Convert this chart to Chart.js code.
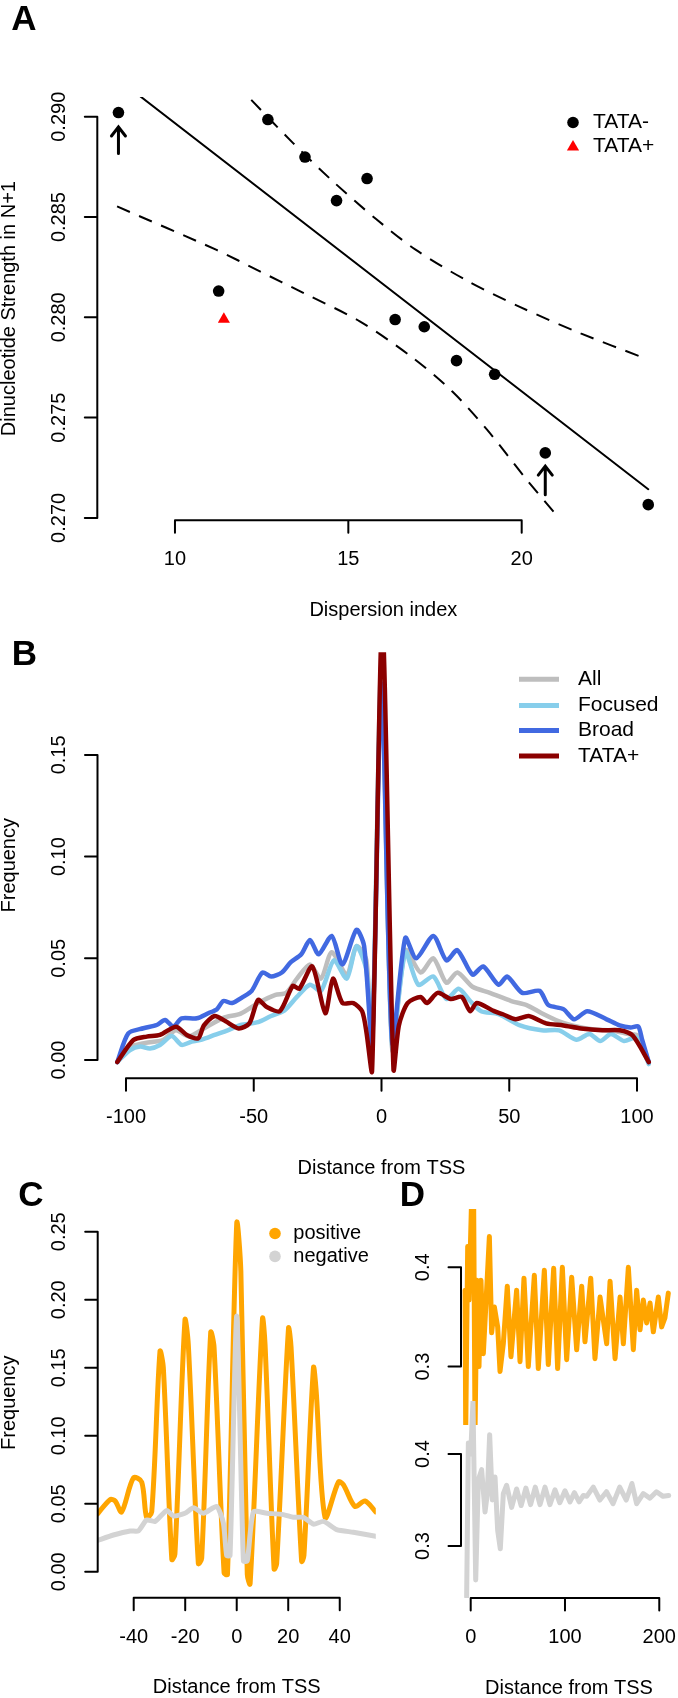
<!DOCTYPE html>
<html>
<head>
<meta charset="utf-8">
<script src="https://cdn.jsdelivr.net/npm/chart.js@4.4.0/dist/chart.umd.min.js"></script>
<style>
html,body{margin:0;padding:0;background:#fff;}
#wrap{position:relative;width:678px;height:1698px;}
#wrap canvas{position:absolute;left:0;top:0;}
</style>
</head>
<body>
<div id="wrap">
<canvas id="chartA" width="678" height="1698"></canvas>
<canvas id="chartB" width="678" height="1698"></canvas>
<canvas id="chartC" width="678" height="1698"></canvas>
<canvas id="chartD" width="678" height="1698"></canvas>
</div>
<script>
// ---- panel A : dinucleotide strength vs dispersion index
const dispTataNeg = [8.37, 12.68, 13.75, 14.66, 15.54, 11.26, 16.35, 17.19, 18.12, 19.22, 20.68, 23.65];
const strengthTataNeg = [0.29021, 0.28986, 0.28799, 0.28582, 0.28692, 0.28131, 0.27989, 0.27953, 0.27784, 0.27716, 0.27324, 0.27066];
const dispTataPos = [11.41];
const strengthTataPos = [0.27990];
const fitX = [8.37, 23.65];
const fitY = [0.29186, 0.27143];
const bandUpX = [12.20, 13.4, 14.58, 15.8, 16.95, 18.4, 19.96, 21.7, 23.46];
const bandUpY = [0.29084, 0.28870, 0.28674, 0.28490, 0.28336, 0.28185, 0.28051, 0.27920, 0.27802];
const bandLoX = [8.33, 11.20, 12.45, 13.70, 15.33, 16.83, 18.0, 19.0, 20.1, 21.0];
const bandLoY = [0.28553, 0.28336, 0.28229, 0.28122, 0.27980, 0.27802, 0.27630, 0.27440, 0.27200, 0.27014];
const arrowX = [8.37, 20.68];
const arrowTail = [0.28817, 0.27116];
const arrowHead = [0.28949, 0.27258];
const ticksAx = [10, 15, 20];
const ticksAy = [0.270, 0.275, 0.280, 0.285, 0.290];
const labelsAy = ['0.270', '0.275', '0.280', '0.285', '0.290'];

// ---- panel B : frequency around TSS
const allX = [-103.4, -99.2, -92.4, -85.6, -80.5, -75.4, -69.5, -61.9, -55.1, -48.3, -41.5, -37.3, -33.1, -28.0, -23.7, -19.5, -13.6, -9.8, -5.9, -3.7, 0, 4.2, 9.3, 15.3, 20.3, 25.4, 29.7, 35.6, 42.4, 50.8, 56.8, 62.7, 69.5, 74.6, 83.1, 89.8, 96.6, 100.5, 104.6];
const allY = [-0.001, 0.006, 0.0084, 0.0098, 0.0146, 0.0116, 0.0155, 0.0207, 0.0228, 0.028, 0.032, 0.033, 0.040, 0.047, 0.040, 0.053, 0.042, 0.056, 0.049, 0.005, 0.19, 0.005, 0.054, 0.043, 0.050, 0.038, 0.043, 0.036, 0.033, 0.029, 0.027, 0.023, 0.019, 0.017, 0.015, 0.0146, 0.0128, 0.012, -0.001];
const focusedX = [-103.4, -98.4, -94.5, -90.6, -86.7, -82.1, -78.2, -74.3, -70.3, -65.3, -60.2, -55.1, -48.3, -43.2, -38.1, -33.1, -28.0, -23.7, -18.6, -13.6, -9.8, -5.9, -3.7, 0, 4.2, 9.3, 14.4, 20.3, 25.4, 30.2, 34.7, 39.0, 45.8, 54.2, 62.7, 69.5, 76.3, 81.4, 85.6, 89.8, 94.9, 100, 104.6];
const focusedY = [-0.001, 0.0049, 0.0066, 0.0057, 0.0074, 0.0118, 0.0074, 0.009, 0.010, 0.0123, 0.0146, 0.0172, 0.0186, 0.0216, 0.0242, 0.031, 0.037, 0.034, 0.049, 0.040, 0.056, 0.044, 0.006, 0.195, 0.006, 0.053, 0.037, 0.041, 0.030, 0.035, 0.029, 0.024, 0.0225, 0.017, 0.0146, 0.0146, 0.010, 0.0128, 0.0093, 0.0128, 0.0093, 0.011, -0.002];
const broadX = [-103.4, -99.1, -93.2, -88, -84.7, -81.5, -78.2, -72.3, -67.8, -64.4, -61.9, -58.5, -54.2, -50.8, -46.6, -43.2, -39.0, -35.6, -31.4, -28.0, -24.6, -19.5, -15.3, -9.8, -6.8, -3.7, 0, 4.2, 9.3, 13.6, 20.3, 25.4, 29.7, 35.6, 39.8, 45.8, 49.2, 55.1, 61.9, 65.3, 71.2, 75.4, 80.5, 88.1, 93.2, 97.5, 100.5, 102, 104.6];
const broadY = [-0.001, 0.0131, 0.0156, 0.0172, 0.0197, 0.0164, 0.0205, 0.0205, 0.023, 0.025, 0.029, 0.028, 0.031, 0.034, 0.043, 0.041, 0.043, 0.048, 0.052, 0.059, 0.052, 0.061, 0.047, 0.064, 0.056, 0.0084, 0.185, 0.0084, 0.060, 0.050, 0.061, 0.049, 0.054, 0.042, 0.046, 0.037, 0.041, 0.033, 0.034, 0.027, 0.025, 0.020, 0.024, 0.020, 0.017, 0.016, 0.0165, 0.010, -0.001];
const tataX = [-103.4, -97.1, -91.9, -86.7, -80.4, -76.2, -71.7, -69.5, -65.3, -61.0, -55.9, -51.7, -48.3, -44.9, -39.8, -34.7, -32.2, -27.1, -22.0, -19.0, -15.3, -11.0, -7.6, -5.9, -3.7, 0.3, 4.7, 6.8, 10.2, 15.3, 17.8, 22.0, 27.1, 31.4, 34.7, 37.3, 44.1, 47.5, 52.5, 57.6, 64.4, 71.2, 78.0, 86.4, 93.2, 98.3, 104.6];
const tataY = [-0.001, 0.0098, 0.0115, 0.0123, 0.0164, 0.0123, 0.0107, 0.017, 0.0216, 0.019, 0.0155, 0.018, 0.0295, 0.026, 0.024, 0.0365, 0.035, 0.046, 0.023, 0.040, 0.028, 0.028, 0.024, 0.0137, -0.0056, 0.215, -0.0047, 0.017, 0.028, 0.031, 0.028, 0.033, 0.030, 0.031, 0.024, 0.028, 0.024, 0.0225, 0.020, 0.0216, 0.018, 0.017, 0.0155, 0.0146, 0.0146, 0.012, -0.001];
const ticksBx = [-100, -50, 0, 50, 100];
const ticksBy = [0, 0.05, 0.10, 0.15];
const labelsBy = ['0.00', '0.05', '0.10', '0.15'];
const legendB = ['All', 'Focused', 'Broad', 'TATA+'];

// ---- panel C
const cPosX = [-54, -49.2, -47.2, -44.7, -40.1, -36.9, -35.0, -33.0, -29.8, -28.5, -25.2, -24.0, -20.1, -18.8, -14.9, -13.6, -10.1, -8.8, -4.9, -3.6, 0, 1.6, 4.1, 5.2, 10.0, 11.0, 14.5, 15.5, 20.1, 21.1, 25.2, 26.1, 29.8, 30.8, 34.3, 39.5, 41.4, 45.9, 49.8, 54];
const cPosY = [0.0426, 0.053, 0.052, 0.044, 0.069, 0.066, 0.040, 0.044, 0.162, 0.150, 0.009, 0.013, 0.185, 0.167, 0.006, 0.010, 0.176, 0.165, -0.001, -0.002, 0.256, 0.221, -0.002, -0.009, 0.186, 0.167, 0.002, 0.006, 0.179, 0.165, 0.0076, 0.012, 0.150, 0.134, 0.040, 0.066, 0.064, 0.048, 0.052, 0.044];
const cNegX = [-54, -47.9, -41.4, -38.2, -35.0, -31.7, -27.2, -24.6, -20.1, -16.8, -12.9, -7.8, -5.2, -3.9, -2.6, 0, 2.6, 4.1, 6.5, 11.7, 18.1, 22.0, 25.9, 29.8, 33.7, 38.8, 45.3, 54];
const cNegY = [0.023, 0.027, 0.030, 0.030, 0.038, 0.037, 0.045, 0.041, 0.043, 0.047, 0.043, 0.048, 0.036, 0.012, 0.012, 0.188, 0.008, 0.008, 0.044, 0.043, 0.042, 0.040, 0.040, 0.035, 0.037, 0.031, 0.029, 0.026];
const ticksCx = [-40, -20, 0, 20, 40];
const ticksCy = [0, 0.05, 0.10, 0.15, 0.20, 0.25];
const labelsCy = ['0.00', '0.05', '0.10', '0.15', '0.20', '0.25'];

// ---- panel D
const dPosX = [-6, -5.3, -3.2, -1.8, 1.0, 3.1, 4.6, 6.7, 8.8, 10.9, 13.4, 15.8, 19.8, 22.2, 25.1, 28.6, 31.1, 34.6, 38.8, 42.7, 48.7, 52.3, 56.5, 61.1, 67.5, 71.7, 78.1, 82.3, 88.0, 92.2, 97.2, 101.8, 107.1, 112.4, 117.7, 121.2, 127.3, 131.8, 137.2, 144.2, 147.8, 153.1, 158.4, 161.9, 167.2, 172.5, 176.0, 179.6, 183.1, 186.6, 190.2, 193.7, 199.0, 202.5, 206.0, 209.6];
const dPosY = [0.377, 0.235, 0.421, 0.367, 0.47, 0.47, 0.235, 0.387, 0.30, 0.387, 0.313, 0.357, 0.431, 0.334, 0.36, 0.34, 0.295, 0.323, 0.381, 0.31, 0.377, 0.305, 0.389, 0.30, 0.392, 0.298, 0.397, 0.302, 0.399, 0.298, 0.40, 0.307, 0.39, 0.317, 0.381, 0.325, 0.389, 0.308, 0.37, 0.323, 0.386, 0.308, 0.37, 0.323, 0.40, 0.317, 0.377, 0.337, 0.367, 0.344, 0.364, 0.335, 0.37, 0.34, 0.349, 0.374];
const dNegX = [-4.3, -2.5, 0, 2.4, 5.3, 8.1, 11.6, 15.2, 17.6, 20.1, 22.9, 25.8, 28.6, 31.4, 34.6, 38.1, 43.4, 48.7, 53.5, 58.5, 63.5, 68.5, 73.5, 78.8, 84, 89.4, 94.5, 100, 105.3, 110, 115, 119.5, 123, 130, 137, 144, 151, 158, 165, 171, 176, 183, 190, 197, 204, 210];
const dNegY = [0.245, 0.412, 0.40, 0.457, 0.263, 0.372, 0.383, 0.337, 0.357, 0.421, 0.35, 0.375, 0.317, 0.297, 0.357, 0.366, 0.342, 0.362, 0.344, 0.363, 0.345, 0.364, 0.345, 0.364, 0.345, 0.361, 0.347, 0.36, 0.348, 0.358, 0.348, 0.355, 0.354, 0.364, 0.35, 0.359, 0.346, 0.364, 0.35, 0.368, 0.346, 0.357, 0.352, 0.359, 0.354, 0.355];
const ticksDx = [0, 100, 200];
const ticksDy = [0.3, 0.4];

const FONT = '"Liberation Sans", Arial, Helvetica, sans-serif';
const TICK = 12.5;
const ORANGE = '#FFA500', LGRAY = '#D3D3D3';

function pts(xs, ys) {
  return xs.map((x, i) => ({x: x, y: ys[i]}));
}

function lineDs(xs, ys, color, width, extra) {
  return Object.assign({
    data: pts(xs, ys),
    showLine: true,
    borderColor: color,
    borderWidth: width,
    pointRadius: 0,
    fill: false,
    tension: 0,
    borderCapStyle: 'round',
    borderJoinStyle: 'round'
  }, extra || {});
}

// R style axes: line only between outer ticks, labels parallel to axis
function rAxes(axes) {
  return {
    id: 'rAxes',
    afterDraw(chart) {
      const ctx = chart.ctx, a = chart.chartArea;
      ctx.save();
      ctx.strokeStyle = '#000';
      ctx.fillStyle = '#000';
      ctx.lineWidth = 2;
      ctx.lineCap = 'round';
      ctx.font = '20px ' + FONT;
      ctx.textAlign = 'center';
      ctx.textBaseline = 'middle';
      axes.forEach(ax => {
        const sc = chart.scales[ax.scale];
        const px = ax.ticks.map(v => sc.getPixelForValue(v));
        const labels = ax.labels || ax.ticks.map(String);
        ctx.beginPath();
        if (ax.side == 'bottom') {
          const y0 = a.bottom;
          ctx.moveTo(px[0], y0);
          ctx.lineTo(px[px.length - 1], y0);
          px.forEach(p => { ctx.moveTo(p, y0); ctx.lineTo(p, y0 + TICK); });
          ctx.stroke();
          px.forEach((p, i) => ctx.fillText(labels[i], p, y0 + 39.5));
          if (ax.title) ctx.fillText(ax.title, (a.left + a.right) / 2, y0 + 90);
        } else {
          const x0 = a.left;
          ctx.moveTo(x0, px[0]);
          ctx.lineTo(x0, px[px.length - 1]);
          px.forEach(p => { ctx.moveTo(x0, p); ctx.lineTo(x0 - TICK, p); });
          ctx.stroke();
          px.forEach((p, i) => {
            ctx.save();
            ctx.translate(x0 - 38, p);
            ctx.rotate(-Math.PI / 2);
            ctx.fillText(labels[i], 0, 0);
            ctx.restore();
          });
          if (ax.title) {
            ctx.save();
            ctx.translate(x0 - 88, (a.top + a.bottom) / 2);
            ctx.rotate(-Math.PI / 2);
            ctx.fillText(ax.title, 0, 0);
            ctx.restore();
          }
        }
      });
      ctx.restore();
    }
  };
}

function decor(fn) {
  return {
    id: 'decor',
    afterDraw(chart) {
      const ctx = chart.ctx;
      ctx.save();
      fn(ctx, chart);
      ctx.restore();
    }
  };
}

function letter(ctx, txt, x, y) {
  ctx.fillStyle = '#000';
  ctx.font = 'bold 35px ' + FONT;
  ctx.textAlign = 'center';
  ctx.textBaseline = 'middle';
  ctx.fillText(txt, x, y);
}

function baseOptions(pad, scales) {
  return {
    responsive: false,
    animation: false,
    events: [],
    layout: {padding: pad},
    plugins: {legend: {display: false}, tooltip: {enabled: false}, title: {display: false}},
    scales: scales
  };
}

// ---------- A
new Chart(document.getElementById('chartA'), {
  type: 'scatter',
  data: {
    datasets: [
      {data: pts(dispTataNeg, strengthTataNeg), pointStyle: 'circle', pointRadius: 5.8, backgroundColor: '#000', borderWidth: 0, order: 0},
      {data: pts(dispTataPos, strengthTataPos), pointStyle: 'triangle', pointRadius: 7, backgroundColor: '#FF0000', borderWidth: 0, order: 0},
      lineDs(fitX, fitY, '#000', 2, {order: 1}),
      lineDs(bandUpX, bandUpY, '#000', 2, {order: 1, tension: 0.3, borderDash: [14, 10], borderCapStyle: 'butt'}),
      lineDs(bandLoX, bandLoY, '#000', 2, {order: 1, tension: 0.3, borderDash: [14, 10], borderCapStyle: 'butt'})
    ]
  },
  options: baseOptions({left: 97.3, top: 96.9, right: 8.6, bottom: 1177.7}, {
    x: {type: 'linear', display: false, min: 7.76, max: 24.26},
    y: {type: 'linear', display: false, min: 0.26988, max: 0.29099}
  }),
  plugins: [
    rAxes([
      {scale: 'x', side: 'bottom', ticks: ticksAx, title: 'Dispersion index'},
      {scale: 'y', side: 'left', ticks: ticksAy, labels: labelsAy, title: 'Dinucleotide Strength in N+1'}
    ]),
    decor((ctx, chart) => {
      letter(ctx, 'A', 24, 20);
      const sx = chart.scales.x, sy = chart.scales.y;
      ctx.strokeStyle = '#000';
      ctx.lineWidth = 3;
      ctx.lineCap = 'round';
      arrowX.forEach((v, i) => {
        const x = sx.getPixelForValue(v);
        const yt = sy.getPixelForValue(arrowTail[i]);
        const yh = sy.getPixelForValue(arrowHead[i]);
        ctx.beginPath();
        ctx.moveTo(x, yt);
        ctx.lineTo(x, yh);
        ctx.moveTo(x - 7, yh + 9);
        ctx.lineTo(x, yh);
        ctx.lineTo(x + 7, yh + 9);
        ctx.stroke();
      });
      // legend
      ctx.fillStyle = '#000';
      ctx.beginPath();
      ctx.arc(573, 122.5, 5.8, 0, Math.PI * 2);
      ctx.fill();
      ctx.fillStyle = '#FF0000';
      ctx.beginPath();
      ctx.moveTo(573, 140);
      ctx.lineTo(579.1, 150.5);
      ctx.lineTo(566.9, 150.5);
      ctx.closePath();
      ctx.fill();
      ctx.fillStyle = '#000';
      ctx.font = '21px ' + FONT;
      ctx.textAlign = 'left';
      ctx.textBaseline = 'middle';
      ctx.fillText('TATA-', 593, 122.5);
      ctx.fillText('TATA+', 593, 146.4);
    })
  ]
});

// ---------- B
const colorsB = ['#BEBEBE', '#87CEEB', '#4169E1', '#8B0000'];
new Chart(document.getElementById('chartB'), {
  type: 'scatter',
  data: {
    datasets: [
      lineDs(allX, allY, colorsB[0], 4.5, {order: 3, tension: 0.25}),
      lineDs(focusedX, focusedY, colorsB[1], 4.5, {order: 2, tension: 0.25}),
      lineDs(broadX, broadY, colorsB[2], 4.5, {order: 1, tension: 0.25}),
      lineDs(tataX, tataY, colorsB[3], 4.5, {order: 0, tension: 0.25})
    ]
  },
  options: baseOptions({left: 97.5, top: 652.2, right: 12.5, bottom: 619.7}, {
    x: {type: 'linear', display: false, min: -111.15, max: 111.15},
    y: {type: 'linear', display: false, min: -0.009, max: 0.2005}
  }),
  plugins: [
    rAxes([
      {scale: 'x', side: 'bottom', ticks: ticksBx, title: 'Distance from TSS'},
      {scale: 'y', side: 'left', ticks: ticksBy, labels: labelsBy, title: 'Frequency'}
    ]),
    decor((ctx) => {
      letter(ctx, 'B', 24.5, 655.7);
      const rows = [679.3, 705.4, 730.4, 756];
      ctx.lineWidth = 5;
      ctx.lineCap = 'butt';
      ctx.font = '21px ' + FONT;
      ctx.textAlign = 'left';
      ctx.textBaseline = 'middle';
      legendB.forEach((name, i) => {
        ctx.strokeStyle = colorsB[i];
        ctx.beginPath();
        ctx.moveTo(519, rows[i]);
        ctx.lineTo(559, rows[i]);
        ctx.stroke();
        ctx.fillStyle = '#000';
        ctx.fillText(name, 578, rows[i]);
      });
    })
  ]
});

// ---------- C
new Chart(document.getElementById('chartC'), {
  type: 'scatter',
  data: {
    datasets: [
      lineDs(cPosX, cPosY, ORANGE, 5, {order: 1, tension: 0.3}),
      lineDs(cNegX, cNegY, LGRAY, 5, {order: 0, tension: 0.2})
    ]
  },
  options: baseOptions({left: 97.7, top: 1207.8, right: 302.2, bottom: 100.3}, {
    x: {type: 'linear', display: false, min: -53.98, max: 54.0},
    y: {type: 'linear', display: false, min: -0.0191, max: 0.2676}
  }),
  plugins: [
    rAxes([
      {scale: 'x', side: 'bottom', ticks: ticksCx, title: 'Distance from TSS'},
      {scale: 'y', side: 'left', ticks: ticksCy, labels: labelsCy, title: 'Frequency'}
    ]),
    decor((ctx) => {
      letter(ctx, 'C', 31, 1196);
      ctx.fillStyle = ORANGE;
      ctx.beginPath();
      ctx.arc(275, 1233.5, 5.8, 0, Math.PI * 2);
      ctx.fill();
      ctx.fillStyle = LGRAY;
      ctx.beginPath();
      ctx.arc(275, 1256.4, 5.8, 0, Math.PI * 2);
      ctx.fill();
      ctx.fillStyle = '#000';
      ctx.font = '20px ' + FONT;
      ctx.textAlign = 'left';
      ctx.textBaseline = 'middle';
      ctx.fillText('positive', 293.3, 1233.5);
      ctx.fillText('negative', 293.3, 1256.4);
    })
  ]
});

// ---------- D (two stacked sub-plots sharing the x axis)
new Chart(document.getElementById('chartD'), {
  type: 'scatter',
  data: {
    datasets: [
      lineDs(dPosX, dPosY, ORANGE, 5, {order: 1, yAxisID: 'yTop', clip: {left: 0, top: 0, right: 0, bottom: -173}}),
      lineDs(dNegX, dNegY, LGRAY, 5, {order: 0, yAxisID: 'yBot', clip: {left: 0, top: -192, right: 0, bottom: 0}})
    ]
  },
  options: baseOptions({left: 461, top: 1209, right: 1, bottom: 100}, {
    x: {type: 'linear', display: false, min: -10.29, max: 218.8},
    yTop: {type: 'linear', display: false, min: 0.0670, max: 0.4587},
    yBot: {type: 'linear', display: false, min: 0.2435, max: 0.6663}
  }),
  plugins: [
    rAxes([
      {scale: 'x', side: 'bottom', ticks: ticksDx, title: 'Distance from TSS'},
      {scale: 'yTop', side: 'left', ticks: ticksDy},
      {scale: 'yBot', side: 'left', ticks: ticksDy}
    ]),
    decor((ctx) => {
      letter(ctx, 'D', 412.5, 1196);
    })
  ]
});
</script>
</body>
</html>
